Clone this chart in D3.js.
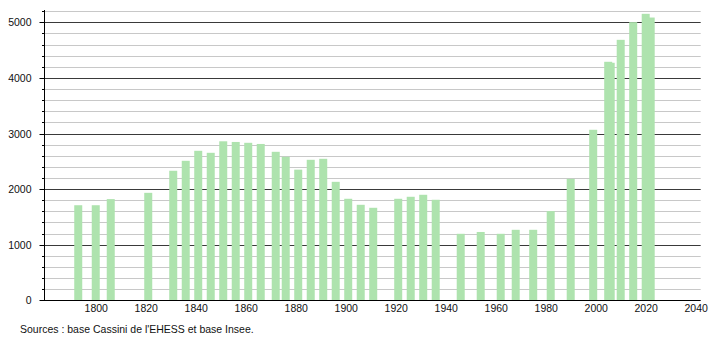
<!DOCTYPE html>
<html>
<head>
<meta charset="utf-8">
<script src="https://cdn.jsdelivr.net/npm/d3@7"></script>
<style>
  body { margin: 0; background: #fff; }
  text { font-family: "Liberation Sans", Arial, sans-serif; }
</style>
</head>
<body>
<svg id="chart"></svg>
<script>
// census years and population
var years  = [1793, 1800, 1806, 1821, 1831, 1836, 1841, 1846, 1851, 1856, 1861, 1866,
              1872, 1876, 1881, 1886, 1891, 1896, 1901, 1906, 1911, 1921, 1926, 1931,
              1936, 1946, 1954, 1962, 1968, 1975, 1982, 1990, 1999, 2005, 2006, 2010,
              2015, 2020, 2022];
var population = [1710, 1710, 1820, 1933, 2330, 2509, 2689, 2653, 2860, 2848, 2833, 2812,
                  2671, 2581, 2350, 2527, 2545, 2131, 1826, 1718, 1664, 1826, 1862, 1898,
                  1808, 1196, 1229, 1196, 1268, 1268, 1604, 2185, 3067, 4290, 4272, 4685,
                  5003, 5153, 5086];
var xTicks = [1800, 1820, 1840, 1860, 1880, 1900, 1920, 1940, 1960, 1980, 2000, 2020, 2040];
var yTicks = [0, 1000, 2000, 3000, 4000, 5000];
var source = "Sources : base Cassini de l'EHESS et base Insee.";

(function popChart() {
  var w = 710, h = 340;
  var mLeft = 44, mRight = 700.7, mTop = 11.2, mBottom = 300.3;
  var base = Math.round(mBottom) + 0.5;

  var svg = d3.select('#chart').attr("width", w).attr("height", h);

  var x = d3.scaleLinear().domain([1779.3, 2042]).range([mLeft, mRight]);
  var y = d3.scaleLinear().domain([0, 5200]).range([mBottom, mTop]);
  var py = function(d) { return Math.round(y(d)) + 0.5; };

  // grid lines: light every 200, dark every 1000
  var minor = d3.range(200, 5201, 200).filter(function(v) { return v % 1000 != 0; });
  svg.append("g").selectAll("line").data(minor).enter().append("line")
     .attr("x1", mLeft).attr("x2", mRight)
     .attr("y1", py).attr("y2", py)
     .attr("stroke", "#c8c8c8");
  svg.append("g").selectAll("line").data(yTicks.slice(1)).enter().append("line")
     .attr("x1", mLeft).attr("x2", mRight)
     .attr("y1", py).attr("y2", py)
     .attr("stroke", "#3a3a3a");

  // bars
  svg.append("g").selectAll("rect").data(years).enter().append("rect")
     .attr("x", function(d) { return x(d) - 4; })
     .attr("width", 8)
     .attr("y", function(d, i) { return y(population[i]); })
     .attr("height", function(d, i) { return mBottom - y(population[i]); })
     .attr("fill", "#aee3ae");

  // y axis, major + minor ticks
  var yAxis = d3.axisLeft(y).tickValues(yTicks).tickSize(5).tickPadding(8).tickFormat(d3.format("d"));
  var ga = svg.append("g").attr("transform", "translate(" + (mLeft + 0.5) + ",0)").call(yAxis);
  ga.select(".domain").remove();
  ga.selectAll(".tick").attr("transform", function(d) { return "translate(0," + py(d) + ")"; });
  ga.selectAll("text").attr("font-size", 10.5).attr("fill", "#111")
    .attr("font-family", "Liberation Sans, Arial, sans-serif");
  ga.selectAll("line").attr("stroke", "#000");
  svg.append("g").selectAll("line").data(minor).enter().append("line")
     .attr("x1", mLeft - 2).attr("x2", mLeft)
     .attr("y1", py).attr("y2", py)
     .attr("stroke", "#000");
  svg.append("line").attr("x1", mLeft + 0.5).attr("x2", mLeft + 0.5)
     .attr("y1", 10).attr("y2", base).attr("stroke", "#000");

  // x axis, labels only
  var xAxis = d3.axisBottom(x).tickValues(xTicks).tickSize(0).tickPadding(4).tickFormat(d3.format("d"));
  var gx = svg.append("g").attr("transform", "translate(0," + base + ")").call(xAxis);
  gx.select(".domain").remove();
  gx.selectAll("text").attr("font-size", 10.5).attr("fill", "#111")
    .attr("font-family", "Liberation Sans, Arial, sans-serif");
  svg.append("line").attr("x1", mLeft).attr("x2", mRight)
     .attr("y1", base).attr("y2", base).attr("stroke", "#000");

  svg.append("text").attr("x", 20).attr("y", 333).attr("font-size", 10.5).attr("fill", "#111")
     .text(source);
})();
</script>
</body>
</html>
